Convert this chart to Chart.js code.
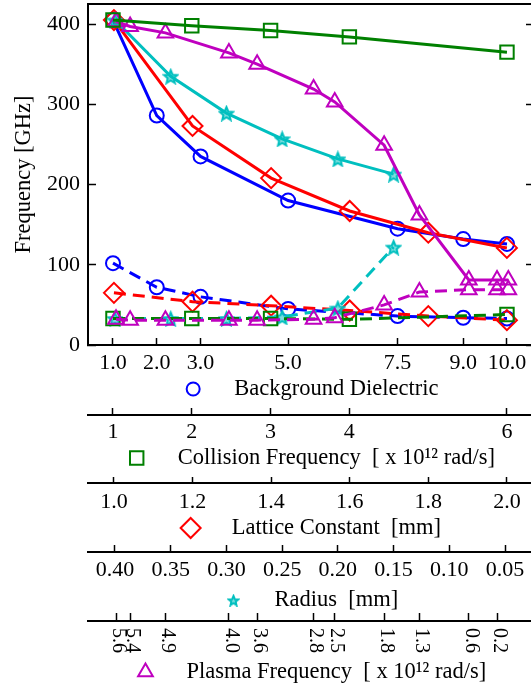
<!DOCTYPE html>
<html>
<head>
<meta charset="utf-8">
<script src="https://cdn.jsdelivr.net/npm/chart.js@4/dist/chart.umd.min.js"></script>
<style>
  html, body { margin: 0; padding: 0; background: #fff; overflow: hidden; }
  canvas { display: block; }
</style>
</head>
<body>
<canvas id="chart" width="534" height="687"></canvas>
<script>
// ---- data ----
const dielX = [1, 2, 3, 5, 7.5, 9, 10];
const dielMode1 = [405, 286, 235, 180, 145, 132, 126];
const dielMode2 = [102, 72, 60, 45, 36, 34, 33];

const collX = [1, 2, 3, 4, 6];
const collMode1 = [405, 398, 392, 384, 365];
const collMode2 = [33, 33, 33, 32, 38];

const latX = [1.0, 1.2, 1.4, 1.6, 1.8, 2.0];
const latMode1 = [405, 273, 208, 167, 140, 121];
const latMode2 = [65, 54, 49, 43, 36, 31];

const radX = [0.40, 0.35, 0.30, 0.25, 0.20, 0.15];
const radMode1 = [405, 335, 289, 257, 232, 213];
const radMode2 = [33, 33, 33, 35, 46, 122];

const plasX = [5.6, 5.4, 4.9, 4.0, 3.6, 2.8, 2.5, 1.8, 1.3, 0.6, 0.2, 0.04];
const plasMode1 = [403, 397, 389, 364, 350, 319, 303, 249, 162, 81, 81, 81];
const plasMode2 = [32, 31, 31, 31, 31, 32, 34, 50, 66, 69, 69, 69];

const yTicks = [0, 100, 200, 300, 400];
const dielTicks = [1, 2, 3, 5, 7.5, 9, 10];
const collTicks = [1, 2, 3, 4, 6];
const latTicks = [1.0, 1.2, 1.4, 1.6, 1.8, 2.0];
const radTicks = [0.40, 0.35, 0.30, 0.25, 0.20, 0.15, 0.10, 0.05];
const plasTicks = [5.6, 5.4, 4.9, 4.0, 3.6, 2.8, 2.5, 1.8, 1.3, 0.6, 0.2];

const BLUE = 'rgb(0,0,255)';
const RED = 'rgb(255,0,0)';
const GREEN = 'rgb(0,128,0)';
const CYAN = 'rgb(0,191,191)';
const MAGENTA = 'rgb(191,0,191)';

const FAMILY = '"Liberation Serif", "Times New Roman", serif';
const tickFont = {family: FAMILY, size: 22};
const titleFont = {family: FAMILY, size: 22.5};

function makeStar(size, color) {
    const c = document.createElement('canvas');
    c.width = size; c.height = size;
    const g = c.getContext('2d');
    const r = size / 2 - 1.5, ri = r * 0.45, cx = size / 2, cy = size / 2 + 1;
    g.beginPath();
    for (let i = 0; i < 10; i++) {
        const a = -Math.PI / 2 + i * Math.PI / 5;
        const rr = i % 2 ? ri : r;
        g.lineTo(cx + rr * Math.cos(a), cy + rr * Math.sin(a));
    }
    g.closePath();
    g.globalAlpha = 0.5; g.fillStyle = color; g.fill();
    g.globalAlpha = 1; g.lineWidth = 2; g.strokeStyle = color; g.stroke();
    return c;
}
const starBig = makeStar(17, CYAN);
const starSmall = makeStar(13, CYAN);

function pts(xs, ys) {
    return xs.map((x, i) => ({x: x, y: ys[i]}));
}

function series(xs, ys, axis, color, style, radius, dashed) {
    return {
        data: pts(xs, ys),
        xAxisID: axis,
        yAxisID: 'y',
        showLine: true,
        borderColor: color,
        borderWidth: 3,
        borderDash: dashed ? [12, 7] : [],
        pointStyle: style,
        pointRadius: radius,
        pointBorderColor: color,
        pointBackgroundColor: 'rgba(0,0,0,0)',
        pointBorderWidth: 2,
        tension: 0
    };
}

// scale helpers
function fixHeight(h) {
    return s => { s.height = h; s.paddingLeft = 0; s.paddingRight = 0; s.paddingTop = 0; s.paddingBottom = 0; };
}
function setTicks(list) {
    return s => { s.ticks = list.map(v => ({value: v})); };
}
function bottomAxis(opts) {
    return {
        type: 'linear',
        axis: 'x',
        position: 'bottom',
        weight: opts.weight,
        min: opts.min,
        max: opts.max,
        reverse: !!opts.reverse,
        afterBuildTicks: setTicks(opts.ticks),
        afterFit: fixHeight(opts.height),
        ticks: {
            display: opts.showLabels !== false,
            autoSkip: false,
            font: tickFont,
            color: '#000',
            padding: opts.pad,
            maxRotation: 0,
            minRotation: 0,
            callback: opts.fmt
        },
        grid: {drawOnChartArea: false, tickLength: opts.tl, color: '#000', tickWidth: 1.5},
        border: {display: true, color: '#000', width: 2},
        title: {display: true, text: opts.title, font: titleFont, color: '#000', padding: {top: 0, bottom: opts.tpad}}
    };
}

// titles of the lower axes with their symbol
const axisTitles = {
    xd: {text: 'Background Dielectric', tpad: 12.5, style: 'circle', radius: 6.5, color: BLUE},
    xc: {text: 'Collision Frequency  [ x 10\u00b9\u00b2 rad/s]', tpad: 11.5, style: 'rect', radius: 9.5, color: GREEN},
    xl: {text: 'Lattice Constant  [mm]', tpad: 10.5, style: 'rectRot', radius: 10, color: RED},
    xr: {text: 'Radius  [mm]', tpad: 7.5, style: starSmall, radius: 6, color: CYAN},
    xp: {text: 'Plasma Frequency  [ x 10\u00b9\u00b2 rad/s]', tpad: 1.5, style: 'triangle', radius: 8.5, color: MAGENTA}
};
const LEAD = '         ';

const extras = {
    id: 'extras',
    afterDraw(chart) {
        const ctx = chart.ctx;
        // plasma frequency tick labels, turned clockwise
        const sp = chart.scales.xp;
        ctx.save();
        ctx.font = '20px ' + FAMILY;
        ctx.fillStyle = '#000';
        ctx.textAlign = 'left';
        ctx.textBaseline = 'middle';
        sp.ticks.forEach(t => {
            const x = sp.getPixelForValue(t.value);
            ctx.save();
            ctx.translate(x + 2, sp.top + 7);
            ctx.rotate(Math.PI / 2);
            ctx.fillText(t.value.toFixed(1), 0, 0);
            ctx.restore();
        });
        ctx.restore();

        // symbols in front of the axis titles
        Object.keys(axisTitles).forEach(id => {
            const s = chart.scales[id];
            const m = axisTitles[id];
            ctx.save();
            ctx.font = titleFont.size + 'px ' + FAMILY;
            const full = ctx.measureText(LEAD + m.text).width;
            const lead = ctx.measureText(LEAD).width;
            const cx = (s.left + s.right) / 2;
            const textStart = cx - full / 2 + lead;
            const y = s.bottom - m.tpad - titleFont.size * 1.2 / 2;
            ctx.strokeStyle = m.color;
            ctx.fillStyle = 'rgba(0,0,0,0)';
            ctx.lineWidth = 2;
            Chart.helpers.drawPoint(ctx, {pointStyle: m.style, radius: m.radius, borderWidth: 2, rotation: 0}, textStart - 41, y);
            ctx.restore();
        });
    }
};

new Chart(document.getElementById('chart').getContext('2d'), {
    type: 'scatter',
    data: {
        datasets: [
            series(collX, collMode1, 'xc', GREEN, 'rect', 9.5, false),
            series(plasX, plasMode1, 'xp', MAGENTA, 'triangle', 9, false),
            series(radX, radMode1, 'xr', CYAN, starBig, 8, false),
            series(latX, latMode1, 'xl', RED, 'rectRot', 10, false),
            series(dielX, dielMode1, 'xd', BLUE, 'circle', 7, false),
            series(plasX, plasMode2, 'xp', MAGENTA, 'triangle', 9, true),
            series(collX, collMode2, 'xc', GREEN, 'rect', 9.5, true),
            series(radX, radMode2, 'xr', CYAN, starBig, 8, true),
            series(latX, latMode2, 'xl', RED, 'rectRot', 10, true),
            series(dielX, dielMode2, 'xd', BLUE, 'circle', 7, true)
        ]
    },
    options: {
        responsive: false,
        animation: false,
        devicePixelRatio: 1,
        layout: {autoPadding: false, padding: {top: 4, left: 0, right: 0, bottom: 0}},
        plugins: {legend: {display: false}, tooltip: {enabled: false}},
        scales: {
            y: {
                type: 'linear', axis: 'y', position: 'left',
                min: 0, max: 425,
                afterBuildTicks: setTicks(yTicks),
                afterFit: s => { s.width = 88; s.paddingTop = 0; s.paddingBottom = 0; },
                ticks: {font: tickFont, color: '#000', padding: 16},
                grid: {drawOnChartArea: false, tickLength: -8, color: '#000', tickWidth: 1.5},
                border: {display: true, color: '#000', width: 2},
                title: {display: true, text: 'Frequency [GHz]', font: titleFont, color: '#000', padding: {top: 10.5, bottom: 0}}
            },
            yr: {
                type: 'linear', axis: 'y', position: 'right',
                min: 0, max: 425,
                afterBuildTicks: setTicks(yTicks),
                afterFit: s => { s.width = 0; s.paddingTop = 0; s.paddingBottom = 0; },
                ticks: {display: false},
                grid: {drawOnChartArea: false, tickLength: -8, color: '#000', tickWidth: 1.5},
                border: {display: true, color: '#000', width: 2}
            },
            xt: {
                type: 'linear', axis: 'x', position: 'top',
                min: 0, max: 1,
                afterFit: fixHeight(0),
                ticks: {display: false},
                grid: {display: false},
                border: {display: true, color: '#000', width: 2}
            },
            xd: bottomAxis({weight: 0, min: 0.429, max: 10.617, ticks: dielTicks, height: 70, pad: 12, tl: -7,
                title: LEAD + axisTitles.xd.text, tpad: axisTitles.xd.tpad, fmt: v => v.toFixed(1)}),
            xc: bottomAxis({weight: 1, min: 0.683, max: 6.343, ticks: collTicks, height: 68, pad: 11, tl: -7,
                title: LEAD + axisTitles.xc.text, tpad: axisTitles.xc.tpad, fmt: v => String(v)}),
            xl: bottomAxis({weight: 2, min: 0.934, max: 2.069, ticks: latTicks, height: 69, pad: 12, tl: -6,
                title: LEAD + axisTitles.xl.text, tpad: axisTitles.xl.tpad, fmt: v => v.toFixed(1)}),
            xr: bottomAxis({weight: 3, min: 0.024, max: 0.4242, reverse: true, ticks: radTicks, height: 69, pad: 12, tl: -7,
                title: LEAD + axisTitles.xr.text, tpad: axisTitles.xr.tpad, fmt: v => v.toFixed(2)}),
            xp: bottomAxis({weight: 4, min: -0.324, max: 5.997, reverse: true, ticks: plasTicks, height: 66, pad: 12, tl: -8,
                title: LEAD + axisTitles.xp.text, tpad: axisTitles.xp.tpad, fmt: v => v.toFixed(1), showLabels: false})
        }
    },
    plugins: [extras]
});
</script>
</body>
</html>
